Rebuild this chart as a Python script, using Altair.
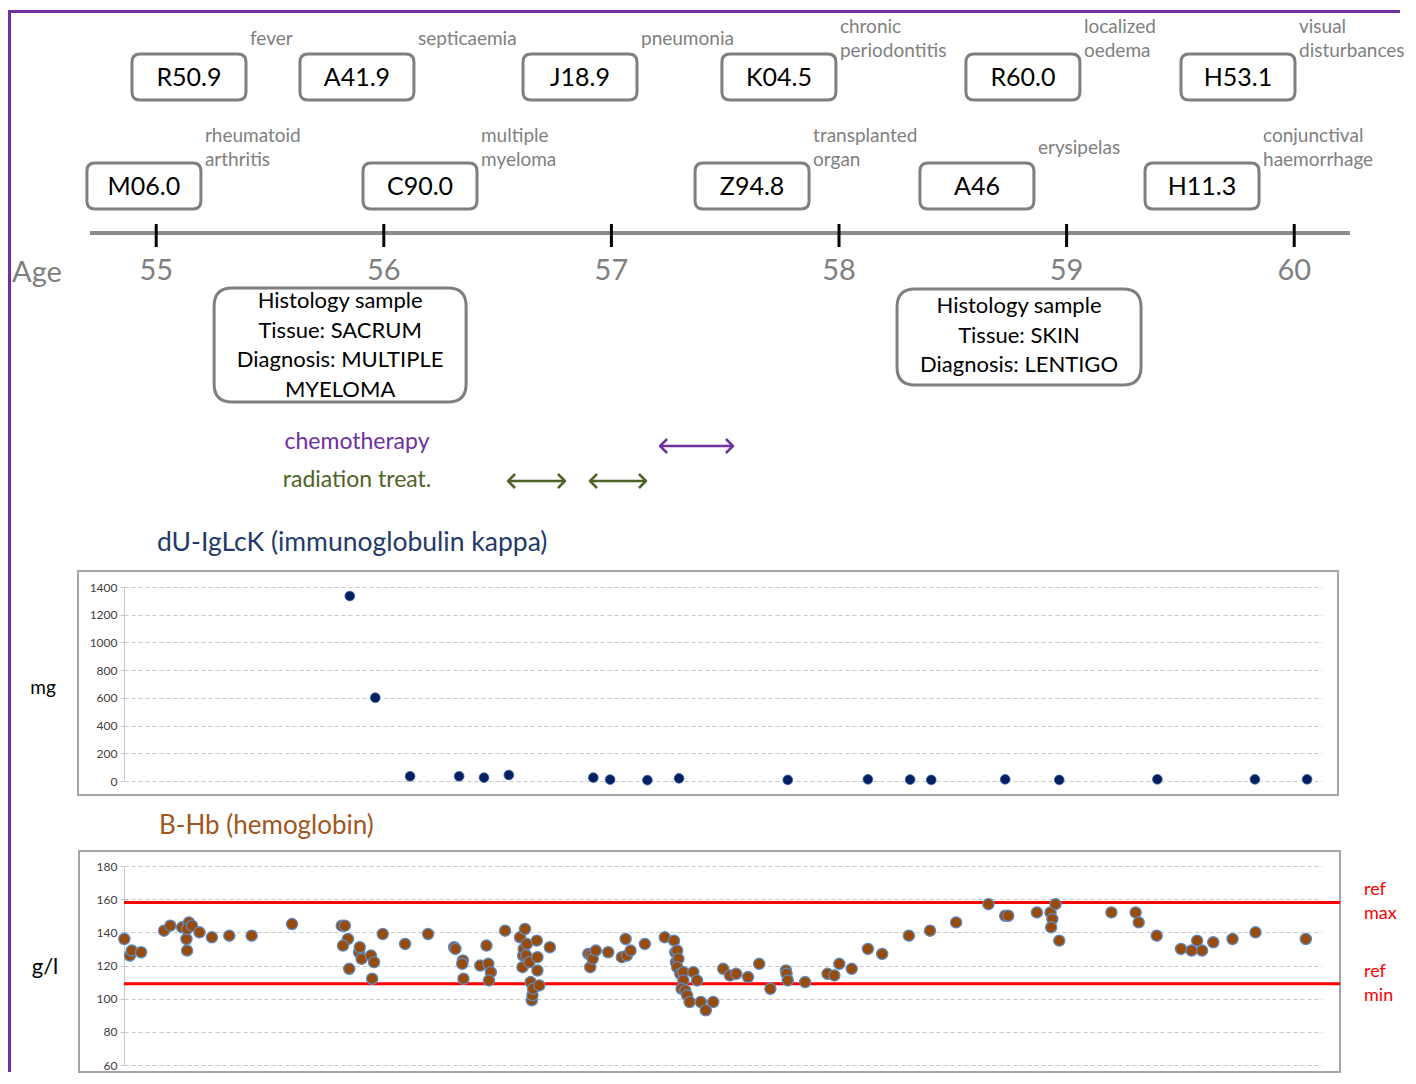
import altair as alt
import pandas as pd

# ---------------- data ----------------
TOP_CODES = ["R50.9", "A41.9", "J18.9", "K04.5", "R60.0", "H53.1"]
TOP_DESCS = ["fever", "septicaemia", "pneumonia", "chronic\nperiodontitis",
             "localized\noedema", "visual\ndisturbances"]
TOP_AGES = [55.144, 55.882, 56.862, 57.736, 58.808, 59.753]

BOTTOM_CODES = ["M06.0", "C90.0", "Z94.8", "A46", "H11.3"]
BOTTOM_DESCS = ["rheumatoid\narthritis", "multiple\nmyeloma", "transplanted\norgan",
                "erysipelas", "conjunctival\nhaemorrhage"]
BOTTOM_AGES = [54.946, 56.159, 57.618, 58.606, 59.595]

AGE_TICKS = [55, 56, 57, 58, 59, 60]
TIMELINE_SPAN = [54.709, 60.245]

HIST_AGES = [55.808, 58.791]
HIST_TEXTS = ["Histology sample\nTissue: SACRUM\nDiagnosis: MULTIPLE\nMYELOMA",
              "Histology sample\nTissue: SKIN\nDiagnosis: LENTIGO"]

TREAT_NAMES = ["chemotherapy", "radiation treat."]
TREAT_KIND = ["chemotherapy", "radiation treat.", "radiation treat."]
TREAT_START = [57.214, 56.546, 56.906]
TREAT_END = [57.534, 56.796, 57.152]

# days since 55th birthday
KAPPA_DAY = [327, 368, 424, 503, 543, 583, 719, 746, 806, 857, 1032, 1161, 1229,
             1263, 1382, 1469, 1627, 1784, 1868]
KAPPA_MG = [1335, 601, 34, 34, 24, 43, 24, 10, 6, 19, 8, 12, 10, 8, 12, 8, 12, 12, 12]

HB_DAY = [-36, -27, -24, -9, 28, 38, 57, 64, 65, 68, 65, 73, 85, 105, 133, 169, 234,
          314, 319, 324, 316, 326, 342, 343, 346, 361, 366, 363, 380, 416, 453,
          495, 497, 509, 508, 510, 537, 547, 550, 554, 551,
          577, 601, 605, 606, 607, 609, 612, 611, 616, 618, 620, 621, 622, 628, 629, 629, 632, 649,
          711, 714, 715, 718, 723, 743, 765, 771, 773, 779, 802, 834, 849, 851, 854, 852, 856,
          854, 859, 864, 864, 861, 867, 870, 874, 880, 886, 892, 900, 912, 928, 939, 949,
          968, 986, 1004, 1029, 1030, 1032, 1060, 1096, 1107, 1115, 1135, 1161, 1184, 1227,
          1261, 1303, 1355, 1382, 1387, 1433, 1455, 1458, 1456, 1463, 1469, 1553, 1592,
          1597, 1626, 1665, 1682, 1691, 1699, 1717, 1748, 1785, 1866]
HB_GL = [136, 126, 129, 128, 141, 144, 143, 136, 129, 146, 142, 144, 140, 137, 138, 138, 145,
         144, 144, 136, 132, 118, 128, 131, 124, 126, 122, 112, 139, 133, 139,
         131, 130, 123, 121, 112, 120, 132, 121, 116, 111,
         141, 137, 119, 126, 130, 142, 133, 126, 122, 110, 99, 102, 106, 135, 125, 117, 108, 131,
         127, 119, 126, 124, 129, 128, 125, 136, 126, 129, 133, 137, 135, 128, 129, 122, 124,
         119, 115, 116, 111, 106, 105, 102, 98, 116, 111, 98, 93, 98, 118, 114, 115,
         113, 121, 106, 117, 115, 111, 110, 115, 114, 121, 118, 130, 127, 138,
         141, 146, 157, 150, 150, 152, 152, 148, 143, 157, 135, 152, 152,
         146, 138, 130, 129, 135, 129, 134, 136, 140, 136]

REF_VALUES = [158, 109]
REF_LABELS = ["ref\nmax", "ref\nmin"]

KAPPA_TICKS = [0, 200, 400, 600, 800, 1000, 1200, 1400]
HB_TICKS = [60, 80, 100, 120, 140, 160, 180]

# ---------------- layout / style ----------------
FONT = "Lato"
W = 1198
H_TL, H_K, H_HB = 492, 194, 199
GAP = 85
AGE_DOMAIN = [54.8585, 60.1221]
DAY_DOMAIN = [-36.5, 1892]
GREY = "#7F7F7F"
PURPLE = "#7030A0"
OLIVE = "#4F6228"


def rounded_box(w, h, r):
    s = 2.0 / w
    hx, hy, rr = 1.0, round(h * s / 2, 4), round(r * s, 4)
    a, b = round(hx - rr, 4), round(hy - rr, 4)
    return (f"M{-a},{-hy}L{a},{-hy}Q{hx},{-hy},{hx},{-b}"
            f"L{hx},{b}Q{hx},{hy},{a},{hy}L{-a},{hy}"
            f"Q{-hx},{hy},{-hx},{b}L{-hx},{-b}Q{-hx},{-hy},{-a},{-hy}Z")


CODE_BOX = rounded_box(114, 46, 8)
HIST_BOX_1 = rounded_box(252, 114, 18)
HIST_BOX_2 = rounded_box(244, 96, 18)
LEFT_HEAD = "M1,-1L0,0L1,1"
RIGHT_HEAD = "M-1,-1L0,0L-1,1"

one = pd.DataFrame({"k": [0]})


def x_age(field):
    return alt.X(field, type="quantitative",
                 scale=alt.Scale(domain=AGE_DOMAIN, nice=False, zero=False), axis=None)


def x_day(field):
    return alt.X(field, type="quantitative",
                 scale=alt.Scale(domain=DAY_DOMAIN, nice=False, zero=False), axis=None)


# ---------------- timeline panel ----------------
all_descs = TOP_DESCS + BOTTOM_DESCS
codes_df = pd.DataFrame({
    "age": TOP_AGES + BOTTOM_AGES,
    "code": TOP_CODES + BOTTOM_CODES,
    "desc": all_descs,
    "lines": [d.count("\n") + 1 for d in all_descs],
    "row": ["top"] * len(TOP_CODES) + ["bottom"] * len(BOTTOM_CODES),
})
y_row = alt.Y("row:N", scale=alt.Scale(type="point", domain=["top", "bottom"],
                                       range=[67, 176], padding=0), axis=None)

frame_top = alt.Chart(one).mark_rule(color=PURPLE, strokeWidth=3).encode(
    x=alt.value(-114.5), x2=alt.value(1276), y=alt.value(1.5))
frame_left = alt.Chart(one).mark_rule(color=PURPLE, strokeWidth=3).encode(
    x=alt.value(-114.5), y=alt.value(0), y2=alt.value(1062))

axis_line = alt.Chart(pd.DataFrame({"start": [TIMELINE_SPAN[0]], "end": [TIMELINE_SPAN[1]]})
                      ).mark_rule(color="#8C8C8C", strokeWidth=4).encode(
    x=x_age("start"), x2="end", y=alt.value(223))

ticks_df = pd.DataFrame({"age": AGE_TICKS})
ticks = alt.Chart(ticks_df).mark_rule(color="black", strokeWidth=3).encode(
    x=x_age("age"), y=alt.value(214), y2=alt.value(237))
tick_labels = alt.Chart(ticks_df).mark_text(font=FONT, fontSize=29, color=GREY,
                                            baseline="middle").encode(
    x=x_age("age"), y=alt.value(261), text=alt.Text("age:Q", format="d"))
age_word = alt.Chart(one).mark_text(text="Age", font=FONT, fontSize=29, color=GREY,
                                    baseline="middle").encode(
    x=alt.value(-87), y=alt.value(263))

code_boxes = alt.Chart(codes_df).mark_point(
    shape=CODE_BOX, size=114 ** 2, filled=True, fill="white", stroke=GREY,
    strokeWidth=3, opacity=1).encode(x=x_age("age"), y=y_row)
code_text = alt.Chart(codes_df).mark_text(font=FONT, fontSize=25, color="black",
                                          baseline="middle", dy=1).encode(
    x=x_age("age"), y=y_row, text="code:N")
desc_one = alt.Chart(codes_df).transform_filter("datum.lines == 1").mark_text(
    font=FONT, fontSize=19, color="#808080", align="left", baseline="middle",
    dx=61, dy=-38).encode(x=x_age("age"), y=y_row, text="desc:N")
desc_two = alt.Chart(codes_df).transform_filter("datum.lines == 2").mark_text(
    font=FONT, fontSize=19, color="#808080", align="left", baseline="middle",
    dx=61, dy=-50, lineBreak="\n", lineHeight=24).encode(
    x=x_age("age"), y=y_row, text="desc:N")

hist1 = pd.DataFrame({"age": [HIST_AGES[0]], "text": [HIST_TEXTS[0]]})
hist2 = pd.DataFrame({"age": [HIST_AGES[1]], "text": [HIST_TEXTS[1]]})
hist_box1 = alt.Chart(hist1).mark_point(
    shape=HIST_BOX_1, size=252 ** 2, filled=True, fill="white", stroke=GREY,
    strokeWidth=3, opacity=1).encode(x=x_age("age"), y=alt.value(335))
hist_box2 = alt.Chart(hist2).mark_point(
    shape=HIST_BOX_2, size=244 ** 2, filled=True, fill="white", stroke=GREY,
    strokeWidth=3, opacity=1).encode(x=x_age("age"), y=alt.value(327))
hist_text1 = alt.Chart(hist1).mark_text(font=FONT, fontSize=22, color="black",
                                        baseline="middle", lineBreak="\n",
                                        lineHeight=29.5).encode(
    x=x_age("age"), y=alt.value(291), text="text:N")
hist_text2 = alt.Chart(hist2).mark_text(font=FONT, fontSize=22, color="black",
                                        baseline="middle", lineBreak="\n",
                                        lineHeight=29.5).encode(
    x=x_age("age"), y=alt.value(296), text="text:N")

treat_color = alt.Color("kind:N", scale=alt.Scale(domain=TREAT_NAMES, range=[PURPLE, OLIVE]),
                        legend=None)
treat_y = alt.Y("kind:N", scale=alt.Scale(type="point", domain=TREAT_NAMES,
                                          range=[432, 470], padding=0), axis=None)
arrow_y = alt.Y("kind:N", scale=alt.Scale(type="point", domain=TREAT_NAMES,
                                          range=[436, 471], padding=0), axis=None)
treat_names_df = pd.DataFrame({"kind": TREAT_NAMES})
treat_labels = alt.Chart(treat_names_df).mark_text(font=FONT, fontSize=23,
                                                    baseline="middle").encode(
    x=alt.value(233), y=treat_y, text="kind:N", color=treat_color)

treat_df = pd.DataFrame({"kind": TREAT_KIND, "start": TREAT_START, "end": TREAT_END})
arrow_shaft = alt.Chart(treat_df).mark_rule(strokeWidth=2.5).encode(
    x=x_age("start"), x2="end", y=arrow_y, color=treat_color)
arrow_left = alt.Chart(treat_df).mark_point(
    shape=LEFT_HEAD, size=196, filled=False, strokeWidth=2.5, opacity=1,
    strokeJoin="round").encode(x=x_age("start"), y=arrow_y, color=treat_color)
arrow_right = alt.Chart(treat_df).mark_point(
    shape=RIGHT_HEAD, size=196, filled=False, strokeWidth=2.5, opacity=1,
    strokeJoin="round").encode(x=x_age("end"), y=arrow_y, color=treat_color)

timeline = alt.layer(
    frame_top, frame_left, axis_line, ticks, tick_labels, age_word,
    code_boxes, code_text, desc_one, desc_two,
    hist_box1, hist_box2, hist_text1, hist_text2,
    treat_labels, arrow_shaft, arrow_left, arrow_right,
).resolve_scale(y="independent").properties(width=W, height=H_TL)


# ---------------- scatter panels ----------------
def y_axis(values):
    return alt.Axis(values=values, format="d", grid=True, gridDash=[4, 3],
                    gridColor="#C8C8C8", gridWidth=1, domainColor="#C8C8C8",
                    tickColor="#C8C8C8", tickSize=4, labelOverlap=False,
                    labelFont=FONT, labelFontSize=12, labelColor="#404040",
                    labelPadding=3, title=None)


def y_hb(field):
    return alt.Y(field, type="quantitative",
                 scale=alt.Scale(domain=[60, 180], nice=False, zero=False),
                 axis=y_axis(HB_TICKS))


kappa_df = pd.DataFrame({"day": KAPPA_DAY, "mg": KAPPA_MG})
k_frame = alt.Chart(one).mark_rect(fillOpacity=0, stroke="#A6A6A6", strokeWidth=2).encode(
    x=alt.value(-46), x2=alt.value(1214), y=alt.value(-16), y2=alt.value(208))
k_points = alt.Chart(kappa_df).mark_circle(size=95, color="#002060", opacity=1,
                                           stroke="#3A62A8", strokeWidth=0.8).encode(
    x=x_day("day"),
    y=alt.Y("mg:Q", scale=alt.Scale(domain=[0, 1400], nice=False, zero=False),
            axis=y_axis(KAPPA_TICKS)))
k_title = alt.Chart(one).mark_text(text="dU-IgLcK (immunoglobulin kappa)", font=FONT,
                                   fontSize=26.5, color="#1F3A68", align="left",
                                   baseline="middle").encode(
    x=alt.value(33), y=alt.value(-44))
k_unit = alt.Chart(one).mark_text(text="mg", font=FONT, fontSize=19, color="black",
                                  baseline="middle").encode(
    x=alt.value(-81), y=alt.value(101))
kappa = alt.layer(k_frame, k_points, k_title, k_unit).properties(width=W, height=H_K)

hb_df = pd.DataFrame({"day": HB_DAY, "gl": HB_GL})
ref_df = pd.DataFrame({"value": REF_VALUES, "label": REF_LABELS})
h_frame = alt.Chart(one).mark_rect(fillOpacity=0, stroke="#A6A6A6", strokeWidth=2).encode(
    x=alt.value(-45), x2=alt.value(1216), y=alt.value(-15), y2=alt.value(206))
h_points = alt.Chart(hb_df).mark_circle(size=125, color="#994C0A", opacity=1,
                                        stroke="#5B8BC9", strokeWidth=1.3).encode(
    x=x_day("day"), y=y_hb("gl"))
h_refs = alt.Chart(ref_df).mark_rule(color="#FF0000", strokeWidth=3).encode(
    x=alt.value(0), x2=alt.value(1216), y=y_hb("value"))
h_ref_text = alt.Chart(ref_df).mark_text(font=FONT, fontSize=18, color="#FF0000",
                                         align="left", baseline="middle", lineBreak="\n",
                                         lineHeight=24, dy=-12).encode(
    x=alt.value(1240), y=y_hb("value"), text="label:N")
h_title = alt.Chart(one).mark_text(text="B-Hb (hemoglobin)", font=FONT, fontSize=26,
                                   color="#A0561E", align="left",
                                   baseline="middle").encode(
    x=alt.value(35), y=alt.value(-40))
h_unit = alt.Chart(one).mark_text(text="g/l", font=FONT, fontSize=22, color="black",
                                  baseline="middle").encode(
    x=alt.value(-79), y=alt.value(101))
hb = alt.layer(h_frame, h_refs, h_points, h_ref_text, h_title, h_unit).properties(
    width=W, height=H_HB)

chart = alt.vconcat(timeline, kappa, hb, spacing=GAP, bounds="flush").resolve_scale(
    x="independent", y="independent").properties(padding=0).configure_view(stroke=None)

chart.save("out.html", embed_options={"renderer": "svg", "actions": False})
